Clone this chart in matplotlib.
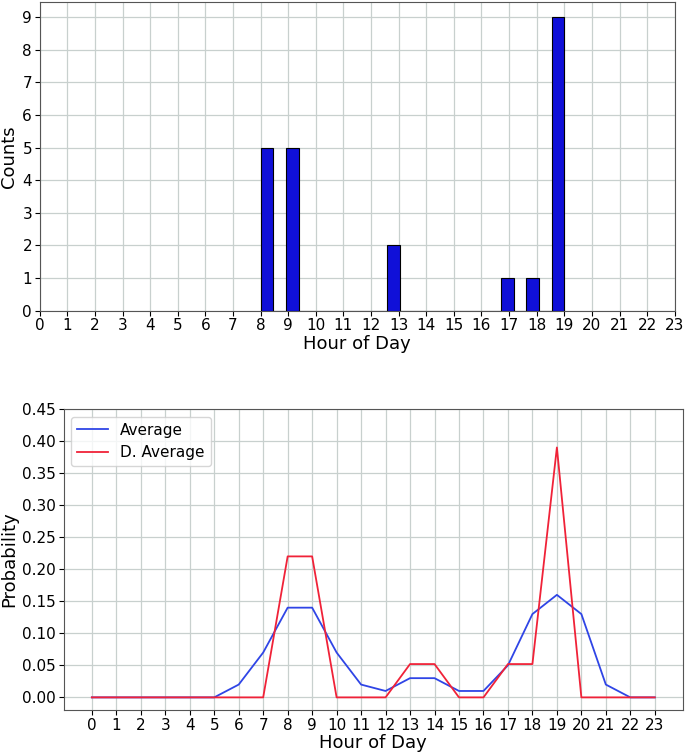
import matplotlib
matplotlib.use("Agg")
import matplotlib.pyplot as plt
import numpy as np

# Data
hours_top = [8, 9, 13, 17, 18, 19]
counts_top = [5, 5, 2, 1, 1, 9]

hours = list(range(24))
average = [0, 0, 0, 0, 0, 0, 0.02, 0.07, 0.14, 0.14, 0.07, 0.02,
           0.01, 0.03, 0.03, 0.01, 0.01, 0.05, 0.13, 0.16, 0.13, 0.02, 0, 0]
d_average = [0, 0, 0, 0, 0, 0, 0, 0, 0.22, 0.22, 0, 0,
             0, 0.052, 0.052, 0, 0, 0.052, 0.052, 0.39, 0, 0, 0, 0]

fig = plt.figure(figsize=(6.85, 7.56), dpi=100)
grid_kw = dict(color='#c8d0ce', linewidth=0.9)

ax1 = fig.add_axes([0.058, 0.589, 0.927, 0.408])
ax1.hist(hours_top, bins=24, weights=counts_top, color='#1010d8',
         edgecolor='black', linewidth=0.8, zorder=3)
ax1.set_xlim(0, 23)
ax1.set_xticks(range(24))
ax1.set_yticks(range(10))
ax1.grid(True, **grid_kw, zorder=0)
ax1.set_axisbelow(True)
ax1.set_xlabel('Hour of Day', fontsize=13, labelpad=1)
ax1.set_ylabel('Counts', fontsize=13, labelpad=3)
ax1.tick_params(labelsize=11, pad=2)
for s in ax1.spines.values():
    s.set_color('#555555')

ax2 = fig.add_axes([0.093, 0.061, 0.904, 0.398])
ax2.plot(hours, average, color='#2f45e6', linewidth=1.3, label='Average')
ax2.plot(hours, d_average, color='#f02238', linewidth=1.3, label='D. Average')
ax2.set_xticks(hours)
ax2.set_ylim(-0.0195, 0.45)
ax2.set_yticks(np.arange(0, 0.451, 0.05))
ax2.set_yticklabels([f'{v:.2f}' for v in np.arange(0, 0.451, 0.05)])
ax2.grid(True, **grid_kw)
ax2.set_axisbelow(True)
ax2.set_xlabel('Hour of Day', fontsize=13, labelpad=1)
ax2.set_ylabel('Probability', fontsize=13, labelpad=3)
ax2.tick_params(labelsize=11, pad=2)
ax2.legend(loc='upper left', fontsize=11, framealpha=0.8)
for s in ax2.spines.values():
    s.set_color('#555555')

fig.savefig('out.png', dpi=100)
